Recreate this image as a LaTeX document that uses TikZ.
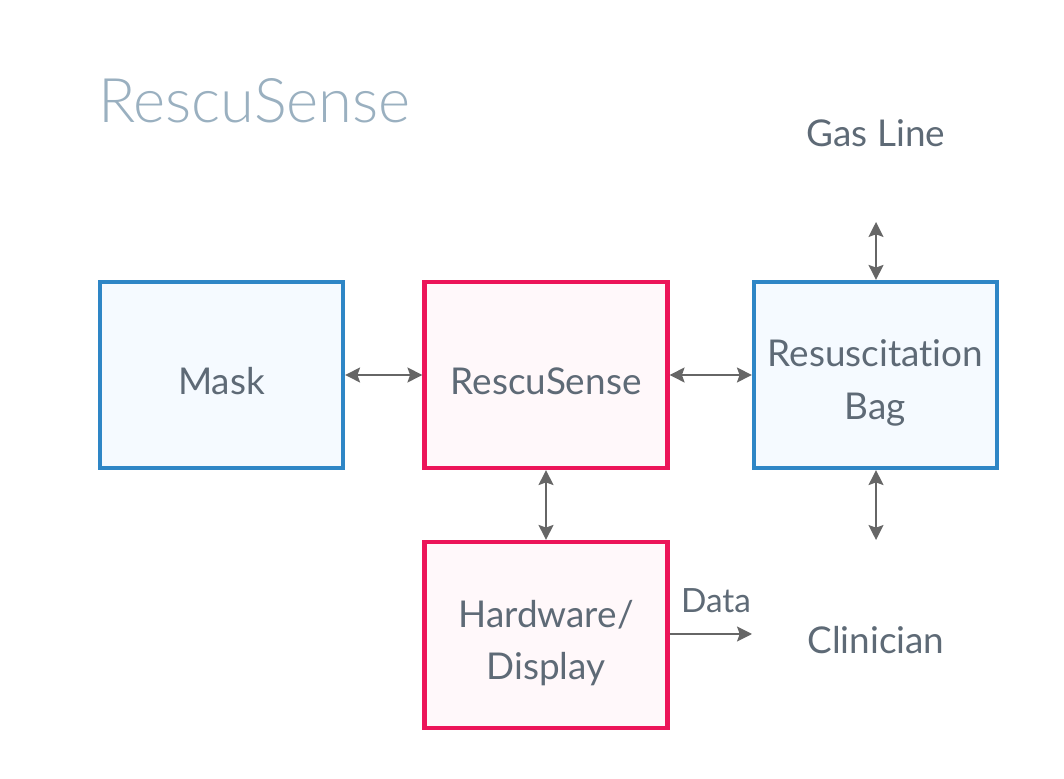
\documentclass[tikz,border=0pt]{standalone}
\usepackage{fontspec}
\setmainfont{Lato}[Ligatures=NoCommon]
\newfontfamily\titlefont{Lato Light}
\usepackage{xcolor}
\usetikzlibrary{positioning, calc, arrows.meta}

\definecolor{txtgray}{HTML}{5E6A76}
\definecolor{titleblue}{HTML}{9AB0C0}
\definecolor{boxblue}{HTML}{2E86C6}
\definecolor{fillblue}{HTML}{F5FAFF}
\definecolor{boxred}{HTML}{EC1559}
\definecolor{fillred}{HTML}{FFF8FA}
\definecolor{arrgray}{HTML}{666666}

\begin{document}
\begin{tikzpicture}[
    every node/.style={text=txtgray, font=\fontsize{21}{30}\selectfont},
    bluebox/.style={draw=boxblue, fill=fillblue, line width=2.4pt, minimum width=4.86cm, minimum height=3.72cm, align=center},
    redbox/.style={draw=boxred, fill=fillred, line width=2.4pt, minimum width=4.86cm, minimum height=3.72cm, align=center},
    link/.style={draw=arrgray, line width=1.2pt, {Stealth[length=8.5pt,width=8.5pt,inset=1.5pt]}-{Stealth[length=8.5pt,width=8.5pt,inset=1.5pt]}},
    onelink/.style={draw=arrgray, line width=1.2pt, -{Stealth[length=8.5pt,width=8.5pt,inset=1.5pt]}}]
        \useasboundingbox (0,0) rectangle (21.28,15.56);
        \node[anchor=base west, text=titleblue, font=\titlefont\fontsize{35}{40}\selectfont] (title) at (1.84,13.1) {RescuSense};
        \node[bluebox] (mask) at (4.43,8.06) {};
        \node[redbox] (rs) at (10.92,8.06) {};
        \node[bluebox] (bag) at (17.51,8.06) {};
        \node[redbox] (hw) at (10.92,2.86) {};
        \node (masktxt) at (4.43,7.94) {Mask};
        \node (rstxt) at (10.92,7.94) {RescuSense};
        \node[align=center] (bagtxt) at (17.51,7.9) {Resuscitation\\Bag};
        \node[align=center] (hwtxt) at (10.92,2.7) {Hardware/\\Display};
        \node (gas) at (17.52,12.9) {Gas Line};
        \node (clin) at (17.52,2.76) {Clinician};
        \node[font=\fontsize{19}{24}\selectfont] (data) at (14.32,3.54) {Data};
        \coordinate (gasend) at (17.52,11.12);
        \coordinate (bagend) at (17.52,4.76);
        \coordinate (dataend) at (15.04,2.88);
        \draw[link] (mask) -- (rs);
        \draw[link] (rs) -- (bag);
        \draw[link] (rs) -- (hw);
        \draw[link] (gasend) -- (bag.north -| gasend);
        \draw[link] (bag.south -| bagend) -- (bagend);
        \draw[onelink] (hw.east |- dataend) -- (dataend);
    \end{tikzpicture}
\end{document}
